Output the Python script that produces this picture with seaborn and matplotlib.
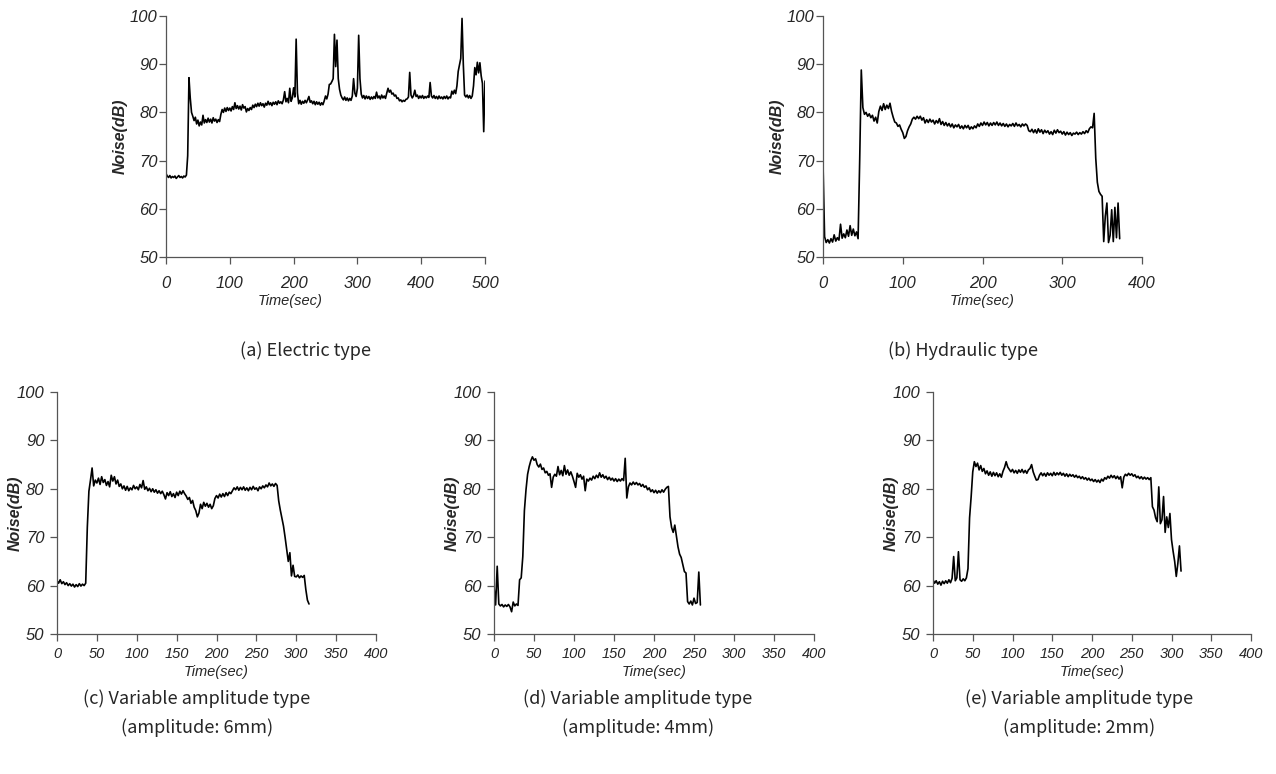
import numpy as np
import pandas as pd
import matplotlib
matplotlib.use("Agg")
import matplotlib.pyplot as plt
import seaborn as sns

# Sound level logged every two seconds during each run
SAMPLE_STEP = 2.0

electric_db = [
    67.3, 66.8, 66.5, 66.9, 66.4, 66.7, 66.5, 66.8, 66.3, 66.6,
    66.9, 66.5, 66.7, 66.4, 66.8, 66.6, 67.0, 71.0, 87.2, 83.0,
    80.0, 79.2, 78.3, 79.0, 77.6, 78.4, 77.2, 78.0, 77.4, 79.4,
    77.8, 78.5, 77.9, 78.8, 78.0, 78.6, 77.8, 78.9, 78.2, 78.6,
    77.9, 78.5, 78.1, 79.6, 80.6, 80.0, 80.9, 80.2, 81.0, 80.4,
    80.9, 80.3, 81.2, 80.6, 82.0, 80.8, 81.4, 80.7, 81.3, 80.5,
    81.6, 80.9, 81.2, 80.1, 80.8, 80.4, 81.0, 80.6, 81.5, 81.0,
    81.7, 81.2, 81.9, 81.3, 82.0, 81.4, 81.8, 81.1, 81.9, 81.5,
    82.3, 81.6, 82.0, 81.4, 82.1, 81.7, 82.2, 81.6, 82.4, 81.9,
    82.2, 81.8, 82.6, 84.3, 82.2, 82.9, 82.0, 85.0, 82.3, 83.0,
    85.1, 83.2, 95.2, 84.0, 81.8, 82.5, 81.7, 82.3, 81.9, 82.5,
    82.0, 82.6, 83.3, 82.1, 82.4, 81.8, 82.3, 81.6, 82.2, 81.7,
    82.1, 81.5, 82.0, 81.6, 82.4, 83.4, 82.8, 83.8, 85.8, 85.9,
    86.4, 87.0, 96.2, 89.5, 95.0, 87.0, 84.8, 83.6, 83.0, 82.6,
    83.2, 82.5, 83.0, 82.4, 82.9, 82.5, 83.4, 87.0, 84.0, 83.3,
    85.0, 96.0, 87.0, 83.8, 83.0, 83.5, 82.8, 83.4, 82.9, 83.3,
    82.7, 83.2, 82.8, 83.3, 82.9, 84.2, 83.0, 83.4, 82.8, 83.6,
    83.0, 83.4, 82.9, 84.0, 85.0, 84.2, 84.6, 83.8, 84.0, 83.4,
    83.6, 82.9, 83.0, 82.4, 82.6, 82.2, 82.5, 82.3, 82.7, 82.8,
    83.2, 88.3, 83.6, 83.0, 83.5, 84.6, 83.3, 83.6, 82.9, 83.4,
    83.0, 83.5, 82.9, 83.3, 83.0, 83.4, 83.1, 86.2, 83.4, 83.0,
    83.5, 82.9, 83.3, 82.8, 83.4, 82.9, 83.2, 82.8, 83.3, 82.9,
    83.4, 82.8, 83.2, 83.0, 84.4, 83.8, 84.6, 83.9, 85.5, 88.5,
    89.8, 91.2, 99.5, 90.0, 83.6, 83.2, 83.6, 83.0, 83.5, 82.9,
    83.4, 85.5, 89.3, 87.8, 90.4, 88.2, 90.3, 87.6, 86.0, 76.0,
    86.5,
]

hydraulic_db = [
    69.5, 54.2, 53.0, 53.6, 52.9, 53.8, 53.1, 54.6, 53.3, 54.0,
    53.5, 56.8, 53.9, 54.8, 54.0, 55.6, 54.3, 56.5, 54.5, 55.8,
    54.4, 55.2, 53.8, 70.0, 88.8, 81.0, 79.6, 80.0, 79.2, 79.7,
    78.9, 79.4, 78.2, 79.0, 77.8, 80.2, 81.3, 80.4, 81.8, 80.6,
    81.5, 80.8, 81.9, 80.2, 79.0, 78.0, 77.8, 77.1, 77.4, 76.5,
    75.8, 74.6, 75.0, 76.2, 77.0, 77.6, 78.6, 79.0, 78.6, 79.2,
    78.7, 79.2, 78.4, 78.9, 77.8, 78.5, 77.9, 78.6, 78.0, 78.4,
    77.6, 78.3, 77.8, 78.7, 77.5, 78.1, 77.3, 77.9, 77.2, 77.7,
    77.0, 77.6, 76.8, 77.4, 77.0, 77.5, 76.7, 77.2, 76.6, 77.3,
    76.8, 77.3, 76.5, 77.0, 76.6, 77.2, 76.8, 77.6, 77.1, 77.8,
    77.3, 78.0, 77.4, 77.9, 77.2, 77.8, 77.3, 77.9, 77.4, 78.0,
    77.3, 77.8, 77.2, 77.7, 77.1, 77.6, 77.0, 77.5, 77.2, 77.7,
    77.1, 77.8, 77.2, 77.5, 77.0, 77.6, 77.2, 77.6, 77.3, 76.2,
    76.0, 76.5, 75.8, 76.4, 75.7, 76.6, 75.9, 76.4, 75.6, 76.3,
    75.8, 76.2, 75.5, 76.0, 75.4, 76.3, 75.7, 76.4, 75.8, 76.1,
    75.5, 76.0, 75.3, 75.9, 75.4, 75.8, 75.2, 75.7, 75.5, 75.9,
    75.4, 75.8, 75.5, 76.0, 75.6, 76.2, 75.8, 76.6, 77.0, 76.8,
    79.8, 70.5, 65.5, 63.6, 63.0, 62.6, 53.2, 58.5, 61.2, 53.0,
    54.5, 59.8, 53.2, 60.3, 54.0, 61.2, 53.8,
]

amp6_db = [
    61.0, 60.5, 61.2, 60.4, 60.8, 60.2, 60.6, 60.0, 60.4, 59.9,
    60.3, 59.7, 60.2, 59.8, 60.4, 59.9, 60.3, 60.0, 60.5, 72.0,
    79.5, 81.8, 84.3, 80.6, 81.8, 81.2, 82.2, 80.9, 82.5, 81.3,
    81.9, 80.7, 81.5, 80.4, 82.8, 81.6, 82.5, 81.0, 81.8, 80.5,
    81.0, 80.0, 80.6, 79.7, 80.5, 79.6, 80.2, 79.8, 80.7, 80.0,
    80.4, 79.8, 80.9, 80.2, 81.7, 79.9, 80.4, 79.6, 80.1, 79.4,
    80.0, 79.3, 79.8, 79.1, 79.6, 79.0, 79.5, 78.8, 77.9, 79.2,
    78.6, 79.4, 78.4, 79.0, 78.2, 79.3, 78.6, 79.5, 78.9, 79.6,
    79.0, 78.5, 77.8, 78.2, 77.0, 77.6, 76.2, 75.5, 74.2, 75.0,
    76.8, 75.9, 77.2, 76.4, 77.0, 76.2, 76.8, 75.9, 76.5, 78.0,
    78.6, 78.1, 78.9, 78.3, 79.0, 78.4, 79.2, 78.6, 79.3, 79.0,
    79.6, 80.2, 79.8, 80.4, 79.7, 80.3, 79.8, 80.4, 79.7, 80.2,
    79.6, 80.3, 79.8, 80.5, 79.9, 80.2, 79.6, 80.4, 80.0, 80.6,
    80.2, 80.8, 80.4, 81.2, 80.6, 81.0, 80.5, 81.1, 80.7, 77.5,
    75.6, 74.0, 72.3, 70.0, 67.5, 65.0, 66.8, 62.0, 64.2, 61.9,
    61.8, 62.2, 61.6, 62.0, 61.7, 62.1, 59.2, 57.0, 56.2,
]

amp4_db = [
    59.8, 56.0, 64.0, 56.2, 55.8, 56.1, 55.6, 56.0, 55.7, 56.1,
    55.6, 54.6, 56.6, 55.8, 56.2, 55.9, 61.2, 61.6, 66.0, 75.5,
    79.8, 83.0, 84.6, 85.8, 86.6, 85.9, 86.2, 85.0, 84.5, 85.1,
    84.0, 84.3, 83.3, 83.6, 82.8, 83.1, 80.3, 82.4, 83.0, 82.6,
    84.6, 82.9, 83.8, 82.7, 84.8, 83.0, 83.9, 82.8, 83.5, 82.6,
    81.5, 80.3, 83.2, 82.4, 82.9, 82.0, 82.6, 79.6, 82.0, 81.6,
    82.2, 81.8, 82.6, 82.1, 82.8, 82.3, 83.3, 82.4, 82.9, 82.2,
    82.6, 81.9, 82.4, 81.8, 82.2, 81.6, 82.1, 81.5, 82.0, 81.6,
    82.1, 81.7, 86.3, 78.1, 80.4, 81.2, 80.8, 81.4, 80.9, 81.3,
    80.8, 81.1, 80.5, 80.9, 80.3, 80.6, 79.8, 80.2, 79.4, 79.8,
    79.2, 79.7, 79.1, 79.6, 79.2, 79.8, 79.3, 79.9, 80.3, 80.5,
    74.2, 72.0, 71.0, 72.5, 70.3, 68.0, 66.5, 65.8, 64.3, 62.9,
    62.6, 56.7, 56.2, 56.8, 56.0, 57.4, 56.3, 56.5, 62.8, 56.0,
]

amp2_db = [
    61.2, 60.5, 61.0, 60.3, 60.8, 60.1, 60.9, 60.4, 61.0, 60.5,
    61.2, 60.6, 61.5, 66.0, 61.0, 61.6, 67.0, 61.2, 60.9, 61.4,
    61.0, 61.6, 63.5, 74.0, 78.4, 83.5, 85.6, 84.6, 85.3, 83.9,
    84.8, 83.6, 84.2, 83.1, 83.7, 82.8, 83.5, 82.6, 83.4, 82.7,
    83.3, 82.5, 83.1, 82.4, 83.6, 84.4, 85.6, 84.5, 84.0, 83.5,
    84.0, 83.3, 83.8, 83.2, 83.9, 83.4, 84.0, 83.3, 83.8, 83.2,
    83.9, 84.2, 85.0, 83.5, 82.6, 81.8, 81.9, 82.8, 83.3, 82.7,
    83.2, 82.6, 83.3, 82.8, 83.2, 82.7, 83.4, 82.8, 83.3, 82.9,
    83.4, 82.8, 83.2, 82.6, 83.1, 82.5, 83.0, 82.6, 82.9, 82.4,
    82.8, 82.3, 82.6, 82.1, 82.5, 82.0, 82.3, 81.8, 82.2, 81.7,
    82.0, 81.5, 81.9, 81.4, 81.8, 81.3, 82.0, 81.6, 82.3, 82.0,
    82.6, 82.2, 82.8, 82.3, 82.7, 82.1, 82.6, 82.0, 82.5, 80.2,
    82.4, 83.0, 82.7, 83.2, 82.8, 83.1, 82.6, 82.9, 82.3, 82.6,
    82.1, 82.5, 82.0, 82.4, 82.0, 82.3, 81.9, 82.3, 76.3, 75.6,
    74.0, 73.2, 80.4, 72.8, 73.6, 78.4, 71.0, 74.2, 72.0, 74.9,
    69.5, 67.1, 65.0, 61.9, 64.6, 68.2, 63.0,
]

series_list = [electric_db, hydraulic_db, amp6_db, amp4_db, amp2_db]
x_max = [500, 400, 400, 400, 400]
x_tick_step = [100, 100, 50, 50, 50]
y_ticks = [50, 60, 70, 80, 90, 100]

captions = [
    "(a) Electric type",
    "(b) Hydraulic type",
    "(c) Variable amplitude type\n(amplitude: 6mm)",
    "(d) Variable amplitude type\n(amplitude: 4mm)",
    "(e) Variable amplitude type\n(amplitude: 2mm)",
]

sns.set_style("ticks")
plt.rcParams["font.family"] = ["Liberation Sans", "DejaVu Sans"]

W, H = 1276, 774
fig = plt.figure(figsize=(W / 100, H / 100), dpi=100)

# axes rectangles in pixels: left, top, right, bottom
boxes = [
    (166, 16, 485, 257),
    (823, 16, 1142, 257),
    (57, 392, 376, 634),
    (494, 392, 814, 634),
    (933, 392, 1251, 634),
]

caption_pos = [(306, 351), (963, 351), (197, 713), (638, 713), (1079, 713)]
narrow = ["Liberation Sans Narrow", "Liberation Sans", "DejaVu Sans"]

spine_color = "#555555"
for i, (vals, (l, t, r, b)) in enumerate(zip(series_list, boxes)):
    ax = fig.add_axes([l / W, 1 - b / H, (r - l) / W, (b - t) / H])
    df = pd.DataFrame({
        "Time(sec)": np.arange(len(vals)) * SAMPLE_STEP,
        "Noise(dB)": vals,
    })
    sns.lineplot(data=df, x="Time(sec)", y="Noise(dB)", ax=ax,
                 color="black", linewidth=1.2, errorbar=None)
    ax.set_xlim(0, x_max[i])
    ax.set_ylim(50, 100)
    ax.set_xticks(np.arange(0, x_max[i] + 1, x_tick_step[i]))
    ax.set_yticks(y_ticks)
    sns.despine(ax=ax)
    for s in ("left", "bottom"):
        ax.spines[s].set_color(spine_color)
        ax.spines[s].set_linewidth(0.9)
    top_row = i < 2
    ax.tick_params(axis="both", direction="out", length=5, width=0.9,
                   color=spine_color)
    ax.tick_params(axis="y", pad=1 if top_row else 4)
    ax.tick_params(axis="x", pad=9 if top_row else 4)
    for lab in ax.get_yticklabels():
        lab.set_fontstyle("italic")
        lab.set_fontsize(12)
    for lab in ax.get_xticklabels():
        lab.set_fontstyle("italic")
        if top_row:
            lab.set_fontsize(12)
        else:
            lab.set_fontsize(10.5)
            lab.set_family(narrow)
    ax.set_ylabel("Noise(dB)", fontsize=11.5, fontstyle="italic",
                  fontweight="bold")
    if top_row:
        ax.set_xlabel("Time(sec)", fontsize=10.5, fontstyle="italic")
        ax.xaxis.set_label_coords(0.39 if i == 0 else 0.5, -0.155)
        ax.yaxis.set_label_coords(-0.119, 0.5)
    else:
        ax.set_xlabel("Time(sec)", fontsize=10.5, fontstyle="italic",
                      family=narrow)
        ax.xaxis.set_label_coords(0.5, -0.13)
        ax.yaxis.set_label_coords(-0.107, 0.5)

    cx, cy = caption_pos[i]
    fig.text(cx / W, 1 - cy / H, captions[i], ha="center", va="center",
             fontsize=13, linespacing=1.7,
             family=["Noto Sans CJK KR", "DejaVu Sans"])

fig.savefig("out.png", dpi=100, facecolor="white")
